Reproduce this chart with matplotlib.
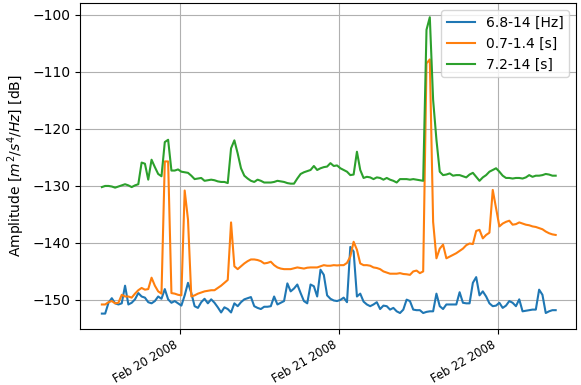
import numpy as np
import pandas as pd
import matplotlib
matplotlib.use("Agg")
import matplotlib.pyplot as plt
import matplotlib.dates as mdates

# half-hourly samples, Feb 19 2008 12:12 -> Feb 22 2008 08:42
t = pd.date_range("2008-02-19 12:12", periods=138, freq="30min")

hz_68_14 = [
    -152.4, -152.4, -150.5, -149.7, -150.6, -150.8, -150.6, -147.5, -150.8, -150.5,
    -149.9, -148.8, -149.4, -149.6, -150.4, -150.6, -150.2, -149.4, -149.8, -148.1,
    -149.9, -150.5, -150.2, -150.6, -151.0, -149.2, -147.0, -148.8, -151.1, -151.4,
    -150.4, -149.8, -150.6, -149.9, -150.5, -151.3, -152.2, -151.3, -151.6, -152.2,
    -150.6, -151.1, -150.4, -149.9, -149.7, -149.5, -151.1, -151.4, -151.6, -151.2,
    -151.2, -151.1, -149.4, -150.8, -150.5, -150.2, -147.1, -148.5, -148.0, -147.3,
    -148.8, -150.2, -150.6, -147.3, -147.6, -149.4, -144.7, -145.6, -149.2, -149.8,
    -150.1, -150.2, -150.0, -149.6, -150.4, -140.7, -141.5, -149.4, -148.9, -150.3,
    -150.8, -151.1, -150.8, -150.4, -151.6, -151.0, -151.1, -151.7, -151.4, -152.0,
    -152.3, -151.7, -149.95, -150.2, -151.7, -151.8, -151.8, -152.3, -152.1, -152.0,
    -152.0, -148.9, -151.1, -151.6, -150.8, -150.8, -150.8, -150.8, -148.65, -150.5,
    -150.6, -150.6, -147.0, -146.0, -149.2, -148.5, -149.4, -150.6, -151.1, -151.0,
    -150.5, -151.4, -151.0, -150.2, -150.5, -151.1, -149.9, -152.0, -151.9, -151.8,
    -151.7, -151.7, -148.2, -149.1, -152.3, -152.0, -151.8, -151.8,
]

s_07_14 = [
    -150.8, -150.8, -150.4, -150.2, -150.6, -150.5, -149.1, -149.4, -149.4, -149.6,
    -148.9, -148.3, -147.9, -148.2, -148.1, -146.1, -147.5, -148.5, -148.9, -125.7,
    -125.7, -148.8, -148.9, -149.1, -149.2, -130.8, -135.9, -149.4, -149.2, -148.9,
    -148.7, -148.5, -148.4, -148.3, -148.3, -147.9, -147.5, -147.0, -146.5, -136.4,
    -144.1, -144.6, -144.1, -143.6, -143.2, -142.9, -142.9, -143.0, -143.2, -143.6,
    -143.5, -143.3, -143.9, -144.3, -144.5, -144.6, -144.6, -144.6, -144.45, -144.3,
    -144.4, -144.5, -144.35, -144.3, -144.3, -144.3, -144.1, -143.9, -144.0, -144.0,
    -143.9, -143.95, -143.9, -143.9, -143.5, -142.4, -139.8, -141.2, -143.6, -143.9,
    -143.9, -144.0, -144.3, -144.4, -144.6, -145.0, -145.2, -145.4, -145.4, -145.4,
    -145.3, -145.45, -145.5, -145.6, -145.0, -144.85, -145.3, -145.0, -108.5, -107.8,
    -136.3, -142.7, -141.0, -140.3, -142.7, -142.4, -142.1, -141.8, -141.4, -141.0,
    -140.4, -140.1, -140.2, -137.9, -137.7, -139.2, -138.6, -138.2, -130.7, -133.9,
    -137.1, -136.6, -136.3, -136.1, -136.8, -136.7, -136.4, -136.6, -136.8, -136.9,
    -137.1, -137.2, -137.4, -137.6, -138.0, -138.3, -138.5, -138.6,
]

s_72_14 = [
    -130.2, -130.0, -130.0, -130.1, -130.3, -130.1, -129.9, -129.7, -129.9, -130.2,
    -129.9, -129.7, -125.9, -126.1, -128.9, -125.4, -126.7, -127.9, -128.3, -122.3,
    -121.9, -127.3, -127.3, -127.1, -127.5, -127.6, -127.7, -128.2, -128.8, -128.7,
    -128.6, -129.1, -129.0, -128.9, -129.0, -129.2, -129.3, -129.3, -129.5, -123.4,
    -122.0, -124.3, -126.9, -128.2, -128.7, -129.1, -129.3, -128.9, -129.1, -129.4,
    -129.4, -129.4, -129.3, -129.1, -129.2, -129.3, -129.5, -129.6, -129.6, -128.7,
    -127.9, -127.6, -127.4, -127.2, -126.5, -127.2, -126.9, -126.7, -126.6, -126.0,
    -126.5, -126.4, -126.9, -127.2, -127.5, -128.1, -128.0, -124.0, -127.2, -128.6,
    -128.4, -128.5, -128.8, -128.5, -128.6, -128.9, -128.6, -128.9, -129.1, -129.4,
    -128.8, -128.8, -128.8, -128.9, -128.8, -128.9, -129.0, -129.1, -102.6, -100.4,
    -114.9, -121.9, -127.5, -128.1, -128.0, -127.8, -128.2, -128.1, -128.1, -128.3,
    -128.5, -128.0, -127.7, -128.4, -129.1, -128.5, -128.1, -127.5, -127.2, -126.9,
    -127.5, -128.2, -128.6, -128.6, -128.7, -128.6, -128.6, -128.7, -128.5, -128.1,
    -128.4, -128.2, -128.2, -128.1, -127.9, -128.0, -128.2, -128.2,
]

labels = ["6.8-14 [Hz]", "0.7-1.4 [s]", "7.2-14 [s]"]

fig = plt.figure(figsize=(5.81, 3.85), dpi=100)
ax = fig.add_axes([0.1377, 0.1455, 0.8537, 0.8467])

ax.plot(t, hz_68_14, label=labels[0])
ax.plot(t, s_07_14, label=labels[1])
ax.plot(t, s_72_14, label=labels[2])

ax.set_ylabel(r"Amplitude [$m^2/s^4/Hz$] [dB]")
ax.set_ylim(-155.1, -97.9)
ax.set_xlim(pd.Timestamp("2008-02-19 08:54"), pd.Timestamp("2008-02-22 11:46"))
ax.xaxis.set_major_locator(mdates.DayLocator())
ax.xaxis.set_major_formatter(mdates.DateFormatter("%b %d %Y"))
for lab in ax.get_xticklabels():
    lab.set_rotation(30)
    lab.set_horizontalalignment("right")
    lab.set_fontsize("small")
ax.grid(True)
ax.legend(loc="upper right")

fig.savefig("out.png", dpi=100)
